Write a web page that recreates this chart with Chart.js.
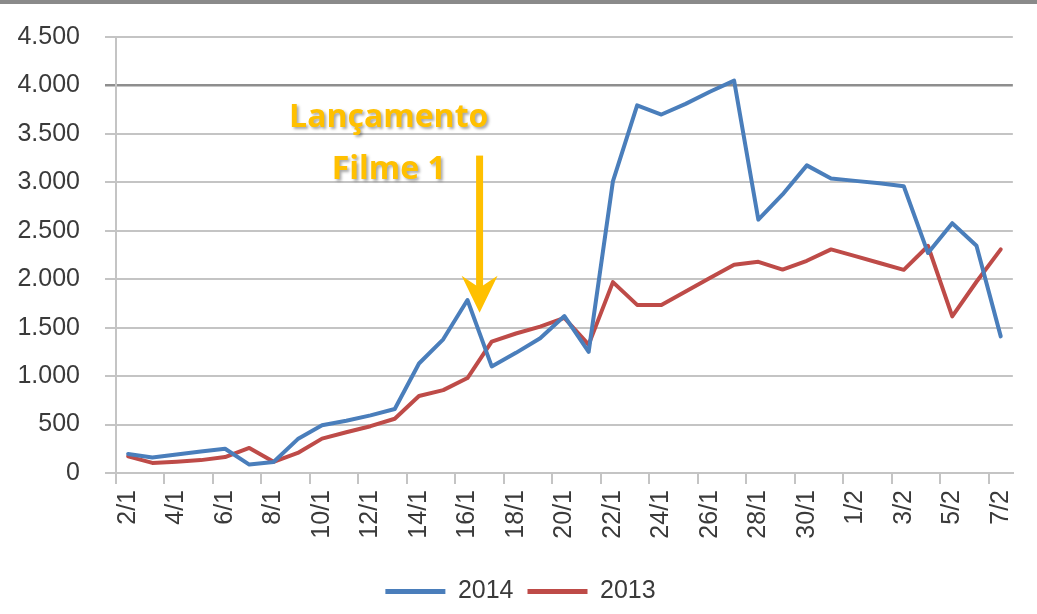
<!DOCTYPE html>
<html>
<head>
<meta charset="utf-8">
<script src="https://cdn.jsdelivr.net/npm/chart.js@4/dist/chart.umd.min.js"></script>
<style>
html,body{margin:0;padding:0;background:#fff;}
#wrap{position:relative;width:1037px;height:614px;}
</style>
</head>
<body>
<div id="wrap"><canvas id="c"></canvas></div>
<script>
const categories = ['2/1','3/1','4/1','5/1','6/1','7/1','8/1','9/1','10/1','11/1','12/1','13/1','14/1','15/1','16/1','17/1','18/1','19/1','20/1','21/1','22/1','23/1','24/1','25/1','26/1','27/1','28/1','29/1','30/1','31/1','1/2','2/2','3/2','4/2','5/2','6/2','7/2'];
const series2014 = [197,160,190,222,250,87,114,350,492,540,595,660,1130,1380,1785,1100,1240,1390,1620,1250,3010,3795,3700,3810,3935,4050,2615,2875,3175,3040,3015,2990,2960,2270,2578,2345,1410];
const series2013 = [172,104,117,133,165,259,116,207,355,420,483,560,795,855,980,1356,1440,1510,1600,1325,1970,1735,1735,1873,2012,2150,2180,2100,2190,2308,2238,2167,2097,2343,1616,1974,2308];
const seriesNames = ['2014','2013'];
const yTicks = [0,500,1000,1500,2000,2500,3000,3500,4000,4500];
const noteLines = ['Lançamento','Filme 1'];

const fmt = v => String(v).replace(/\B(?=(\d{3})+(?!\d))/g,'.');
const FONT = "'Liberation Sans', Arial, sans-serif";

const deco = {
  id:'deco',
  afterLayout(chart){
    if (chart.legend) { chart.legend.left += 12; chart.legend.right += 12; }
  },
  beforeDraw(chart){
    const ctx = chart.ctx;
    ctx.save();
    ctx.fillStyle = '#8a8a8a';
    ctx.fillRect(0,0,chart.width,4);
    ctx.restore();
  },
  afterDatasetsDraw(chart){
    const xs = chart.scales.x, ys = chart.scales.y, ctx = chart.ctx;
    const catPx = f => { const i = Math.floor(f); const a = xs.getPixelForValue(i), b = xs.getPixelForValue(i+1); return a + (f-i)*(b-a); };
    const ax = catPx(14.5);
    const yTop = ys.getPixelForValue(3276), yTip = ys.getPixelForValue(1655), yHead = ys.getPixelForValue(2035);
    ctx.save();
    ctx.fillStyle = '#FFC000';
    ctx.fillRect(ax-3.5, yTop, 7, yHead + 14 - yTop);
    ctx.beginPath();
    ctx.moveTo(ax-18, yHead);
    ctx.lineTo(ax, yHead+12);
    ctx.lineTo(ax+18, yHead);
    ctx.lineTo(ax, yTip);
    ctx.closePath();
    ctx.fill();
    ctx.font = "bold 32px 'Open Sans', sans-serif";
    ctx.textAlign = 'center';
    ctx.textBaseline = 'alphabetic';
    ctx.shadowColor = 'rgba(0,0,0,0.35)';
    ctx.shadowOffsetX = 2; ctx.shadowOffsetY = 2; ctx.shadowBlur = 3;
    const tx = catPx(10.75);
    ctx.fillText(noteLines[0], tx, ys.getPixelForValue(3566));
    ctx.fillText(noteLines[1], tx, ys.getPixelForValue(3036));
    ctx.restore();
  }
};

Chart.defaults.font.family = FONT;
Chart.defaults.color = '#3a3a3a';

new Chart(document.getElementById('c'), {
  type:'line',
  data:{
    labels: categories,
    datasets:[
      {label: seriesNames[0], data: series2014, borderColor:'#4A7EBB', backgroundColor:'#4A7EBB', borderWidth:4, pointRadius:0, tension:0, borderJoinStyle:'round', borderCapStyle:'round'},
      {label: seriesNames[1], data: series2013, borderColor:'#BE4B48', backgroundColor:'#BE4B48', borderWidth:4, pointRadius:0, tension:0, borderJoinStyle:'round', borderCapStyle:'round'}
    ]
  },
  options:{
    responsive:true,
    maintainAspectRatio:false,
    animation:false,
    devicePixelRatio:1,
    layout:{padding:{left:0,right:20,top:37,bottom:0}},
    plugins:{
      tooltip:{enabled:false},
      legend:{
        position:'bottom',
        labels:{
          font:{size:25, family:FONT},
          color:'#3a3a3a',
          boxWidth:60, boxHeight:5, padding:14,
          generateLabels:(chart)=>Chart.defaults.plugins.legend.labels.generateLabels(chart).map(l=>Object.assign(l,{lineWidth:0, fillStyle:l.strokeStyle}))
        }
      }
    },
    scales:{
      x:{
        offset:true,
        grid:{offset:true, drawOnChartArea:false, drawTicks:true, tickLength:11, lineWidth:2,
          color:(c)=> (c.index !== undefined && c.index % 2 === 0) ? '#c4c4c4' : 'rgba(0,0,0,0)'},
        border:{display:true, color:'#c4c4c4', width:2},
        ticks:{autoSkip:false, minRotation:90, maxRotation:90, padding:6, font:{size:25},
          callback:(v,i)=> i % 2 === 0 ? categories[i] : ''},
        afterFit:(s)=>{ s.height = 92; }
      },
      y:{
        min:0, max:4500,
        afterBuildTicks:(s)=>{ s.ticks = yTicks.map(v=>({value:v})); },
        grid:{tickLength:11, lineWidth:(c)=> c.tick && c.tick.value===4000 ? 2.5 : 2,
          color:(c)=> c.tick && c.tick.value===4000 ? '#8e8e8e' : '#c4c4c4'},
        border:{display:true, color:'#c4c4c4', width:2},
        ticks:{padding:25, font:{size:25}, callback:(v)=>fmt(v)},
        afterFit:(s)=>{ s.width = 116; s.paddingTop = 0; s.paddingBottom = 0; }
      }
    }
  },
  plugins:[deco]
});
</script>
</body>
</html>
